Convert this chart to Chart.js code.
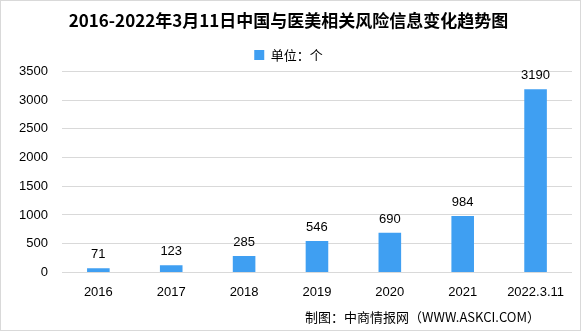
<!DOCTYPE html>
<html>
<head>
<meta charset="utf-8">
<script src="https://cdn.jsdelivr.net/npm/chart.js@4/dist/chart.umd.min.js"></script>
<style>
  html, body { margin: 0; padding: 0; background: #fff; }
  #wrap { position: relative; width: 579px; height: 329px; border: 1px solid #d9d9d9; }
  #source { position: absolute; right: 40px; top: 306px; font: 13px "Noto Sans CJK SC", sans-serif; color: #000; }
</style>
</head>
<body>
<div id="wrap">
  <canvas id="chart" width="579" height="329"></canvas>
  <div id="source">制图：中商情报网（WWW.ASKCI.COM）</div>
</div>
<script>
const labels = ['2016', '2017', '2018', '2019', '2020', '2021', '2022.3.11'];
const counts = [71, 123, 285, 546, 690, 984, 3190];
const seriesName = '单位：个';
const yTicks = [0, 500, 1000, 1500, 2000, 2500, 3000, 3500];

// numbers above bars
const valueLabels = {
    id: 'valueLabels',
    afterDatasetsDraw(chart) {
        const ctx = chart.ctx;
        const meta = chart.getDatasetMeta(0);
        ctx.save();
        ctx.font = '13px "Liberation Sans", sans-serif';
        ctx.fillStyle = '#000';
        ctx.textAlign = 'center';
        ctx.textBaseline = 'bottom';
        meta.data.forEach((bar, i) => {
            ctx.fillText(counts[i], bar.x, bar.y - 7);
        });
        ctx.restore();
    }
};

new Chart(document.getElementById('chart'), {
    type: 'bar',
    data: {
        labels: labels,
        datasets: [{
            label: seriesName,
            data: counts,
            backgroundColor: '#3f9ff2',
            categoryPercentage: 1,
            barPercentage: 0.31
        }]
    },
    options: {
        responsive: false,
        animation: false,
        layout: { padding: { left: 4, right: 8, top: 0, bottom: 26 } },
        plugins: {
            title: {
                display: true,
                text: '2016-2022年3月11日中国与医美相关风险信息变化趋势图',
                font: { family: '"Noto Sans CJK SC"', size: 17, weight: 'bold' },
                color: '#000',
                padding: { top: 9, bottom: 8 }
            },
            legend: {
                labels: {
                    boxWidth: 10,
                    boxHeight: 10,
                    font: { family: '"Noto Sans CJK SC"', size: 13 },
                    color: '#000',
                    padding: 10
                }
            },
            tooltip: { enabled: false }
        },
        scales: {
            x: {
                grid: { display: false },
                border: { display: false },
                ticks: {
                    font: { family: '"Liberation Sans"', size: 13 },
                    color: '#000',
                    padding: 4
                }
            },
            y: {
                min: 0,
                max: 3500,
                afterBuildTicks(axis) { axis.ticks = yTicks.map(v => ({ value: v })); },
                grid: { color: '#d9d9d9', drawTicks: false },
                border: { display: false },
                ticks: {
                    font: { family: '"Liberation Sans"', size: 13 },
                    color: '#000',
                    padding: 14,
                    callback: v => String(v)
                }
            }
        }
    },
    plugins: [valueLabels]
});
</script>
</body>
</html>
